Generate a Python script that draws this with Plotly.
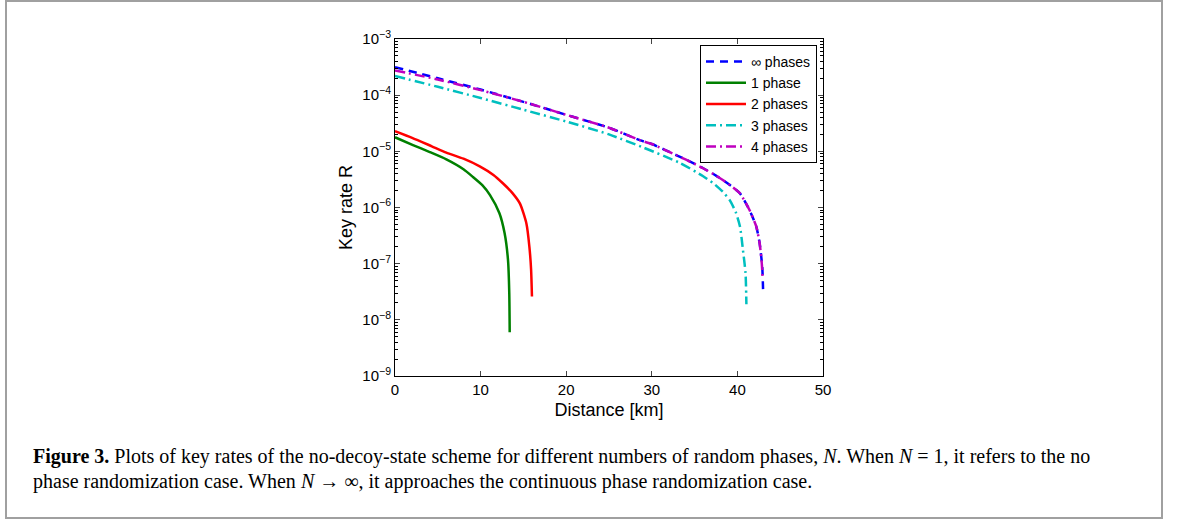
import plotly.graph_objects as go

# distancia (km) y tasa de clave R
dist_inf = [0, 5, 10, 15, 20, 25, 28.6, 30, 32.9, 34, 36, 37.5, 39, 40.3, 41.4, 42.2, 42.6, 42.9, 43.0]
rate_inf = [3.16e-4, 2.0e-4, 1.26e-4, 7.6e-5, 4.47e-5, 2.63e-5, 1.58e-5, 1.35e-5, 8.5e-6, 7.1e-6,
            5.0e-6, 3.7e-6, 2.6e-6, 1.78e-6, 9.1e-7, 4.6e-7, 2.3e-7, 8.9e-8, 3.4e-8]

dist_1 = [0, 2.1, 4, 6, 8, 9.1, 10.2, 11.1, 12.2, 12.8, 13.2, 13.35, 13.4]
rate_1 = [1.78e-5, 1.29e-5, 9.8e-6, 7.2e-6, 4.8e-6, 3.5e-6, 2.5e-6, 1.66e-6, 7.9e-7, 3.5e-7,
          1.17e-7, 2.95e-8, 6.0e-9]

dist_2 = [0, 2, 4.3, 6, 8, 9.9, 11.5, 12.6, 13.7, 14.6, 15.35, 15.7, 15.9, 16.0]
rate_2 = [2.29e-5, 1.74e-5, 1.23e-5, 9.5e-6, 7.4e-6, 5.4e-6, 3.8e-6, 2.7e-6, 1.82e-6, 1.17e-6,
          5.2e-7, 2.0e-7, 7.8e-8, 2.6e-8]

dist_3 = [0, 5, 10, 15, 20, 25, 29, 33.3, 36, 37.2, 38.3, 39.1, 39.8, 40.3, 40.65, 40.95, 41.05]
rate_3 = [2.19e-4, 1.41e-4, 8.9e-5, 5.5e-5, 3.4e-5, 2.0e-5, 1.17e-5, 6.2e-6, 3.6e-6, 2.7e-6,
          1.9e-6, 1.35e-6, 8.3e-7, 4.6e-7, 1.74e-7, 6.8e-8, 1.9e-8]

dist_4 = [0, 5, 10, 15, 20, 25, 28.6, 30, 32.9, 34, 36, 37.5, 39, 40.3, 41.4, 42.2, 42.6, 42.85, 42.95]
rate_4 = [2.75e-4, 1.9e-4, 1.23e-4, 7.6e-5, 4.47e-5, 2.63e-5, 1.58e-5, 1.35e-5, 8.5e-6, 7.1e-6,
          5.0e-6, 3.7e-6, 2.6e-6, 1.78e-6, 9.1e-7, 4.6e-7, 2.3e-7, 1.0e-7, 5.5e-8]

x_ticks = [0, 10, 20, 30, 40, 50]
y_exps = [-9, -8, -7, -6, -5, -4, -3]

# geometria en pixeles
W, H = 1179, 520
L, R, T, B = 395, 823, 39, 376
def px_x(p):
    return (p - L) / (R - L)
def px_y(p):
    return (B - p) / (B - T)

fig = go.Figure()
series = [
    (dist_inf, rate_inf, "\u221e phases", "#0000ff", "8px,6px"),
    (dist_1, rate_1, "1 phase", "#008000", "solid"),
    (dist_2, rate_2, "2 phases", "#ff0000", "solid"),
    (dist_3, rate_3, "3 phases", "#00bfbf", "10px,4px,2px,4px"),
    (dist_4, rate_4, "4 phases", "#bf00bf", "10px,4px,2px,4px"),
]
for xs, ys, name, color, dash in series:
    fig.add_trace(go.Scatter(x=xs, y=ys, mode="lines", name=name,
                             line=dict(color=color, width=2.5, dash=dash, shape="spline", smoothing=0.6)))

minor_vals = [k * 10.0 ** e for e in range(-9, -3) for k in range(2, 10)]
sans = "Liberation Sans, Arial, sans-serif"
font_ax = dict(family=sans, size=15, color="black")

fig.update_layout(
    width=W, height=H,
    margin=dict(l=L, r=W - R, t=T, b=H - B),
    paper_bgcolor="white", plot_bgcolor="white",
    font=font_ax,
    showlegend=True,
    legend=dict(x=px_x(817), y=px_y(45), xanchor="right", yanchor="top",
                bordercolor="black", borderwidth=1, bgcolor="white",
                font=dict(family=sans, size=14, color="black"),
                tracegroupgap=0, itemwidth=40),
    xaxis=dict(range=[0, 50], tickvals=x_ticks, ticks="inside", ticklen=5,
               showline=True, linecolor="black", linewidth=1, mirror="allticks",
               showgrid=False, zeroline=False, tickfont=font_ax,
               title=dict(text="Distance [km]", font=dict(family=sans, size=18), standoff=6)),
    yaxis=dict(type="log", range=[-9, -3],
               tickvals=[10.0 ** e for e in y_exps],
               ticktext=["10<sup>\u2212%d</sup>" % (-e) for e in y_exps],
               ticks="inside", ticklen=5,
               minor=dict(tickmode="array", tickvals=minor_vals, ticks="inside", ticklen=3,
                          tickcolor="black", showgrid=False),
               showline=True, linecolor="black", linewidth=1, mirror="allticks",
               showgrid=False, zeroline=False, tickfont=font_ax,
               title=dict(text="Key rate R", font=dict(family=sans, size=18), standoff=5)),
)

cap_font = dict(family="Liberation Serif, Times New Roman, serif", size=20, color="black")
fig.add_annotation(
    xref="paper", yref="paper", x=px_x(31), y=px_y(470), xanchor="left", yanchor="bottom",
    showarrow=False, align="left", font=cap_font,
    text="<b>Figure 3.</b> Plots of key rates of the no-decoy-state scheme for different numbers of random phases, "
         "<i>N</i>. When <i>N</i> = 1, it refers to the no")
fig.add_annotation(
    xref="paper", yref="paper", x=px_x(31), y=px_y(495), xanchor="left", yanchor="bottom",
    showarrow=False, align="left", font=cap_font,
    text="phase randomization case. When <i>N</i> \u2192 \u221e, it approaches the continuous phase randomization case.")

# marco gris de la figura
fig.add_shape(type="rect", xref="paper", yref="paper",
              x0=px_x(6), x1=px_x(1162), y0=px_y(518), y1=px_y(1),
              line=dict(color="#a0a0a0", width=2), layer="below")

fig.write_html("out.html", config={"displayModeBar": False},
               post_script="document.body.style.margin='0px';")
